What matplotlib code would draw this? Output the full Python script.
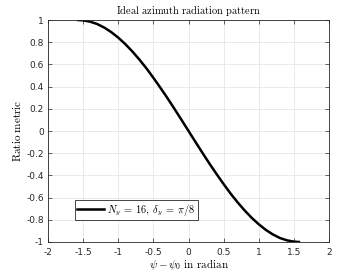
import numpy as np
import matplotlib
matplotlib.use("Agg")
import matplotlib.pyplot as plt
from matplotlib import rcParams

rcParams['mathtext.fontset'] = 'cm'
rcParams['font.family'] = 'DejaVu Sans'
rcParams['font.size'] = 7

# values
psi = [-1.571, -1.5, -1.4, -1.3, -1.2, -1.1, -1.0, -0.9, -0.8, -0.7, -0.6,
       -0.5, -0.4, -0.3, -0.2, -0.1, 0.0, 0.1, 0.2, 0.3, 0.4, 0.5, 0.6,
       0.7, 0.8, 0.9, 1.0, 1.1, 1.2, 1.3, 1.4, 1.5, 1.571]
ratio = [1.0, 0.997, 0.985, 0.964, 0.932, 0.891, 0.841, 0.783, 0.717, 0.644,
         0.565, 0.479, 0.389, 0.296, 0.199, 0.100, 0.0, -0.100, -0.199,
         -0.296, -0.389, -0.479, -0.565, -0.644, -0.717, -0.783, -0.841,
         -0.891, -0.932, -0.964, -0.985, -0.997, -1.0]
xticks = [-2, -1.5, -1, -0.5, 0, 0.5, 1, 1.5, 2]
xticklabels = ['-2', '-1.5', '-1', '-0.5', '0', '0.5', '1', '1.5', '2']
yticks = [-1, -0.8, -0.6, -0.4, -0.2, 0, 0.2, 0.4, 0.6, 0.8, 1]
yticklabels = ['-1', '-0.8', '-0.6', '-0.4', '-0.2', '0', '0.2', '0.4', '0.6', '0.8', '1']

fig = plt.figure(figsize=(3.64, 2.73), dpi=100)
ax = fig.add_axes([0.132, 0.1136, 0.772, 0.813])

ax.plot(psi, ratio, color='black', linewidth=1.8,
        label=r'$N_y\:=\:16,\:\delta_y\:=\:\pi/8$')

ax.set_xlim(-2, 2)
ax.set_ylim(-1, 1)
ax.set_xticks(xticks)
ax.set_xticklabels(xticklabels)
ax.set_yticks(yticks)
ax.set_yticklabels(yticklabels)
ax.tick_params(direction='in', top=True, right=True, length=3, width=0.5,
               labelsize=6.5, colors='#262626')
ax.tick_params(axis='x', pad=4)
ax.tick_params(axis='y', pad=3)
for s in ax.spines.values():
    s.set_linewidth(0.6)
    s.set_color('#262626')
ax.grid(True, color='#e6e6e6', linewidth=0.6)
ax.set_axisbelow(True)

ax.set_title(r'$\mathrm{Ideal\ azimuth\ radiation\ pattern}$', fontsize=7.5, pad=4)
ax.set_xlabel(r'$\psi - \psi_0\ \mathrm{in\ radian}$', fontsize=8, labelpad=0)
ax.set_ylabel(r'$\mathrm{Ratio\ metric}$', fontsize=8, labelpad=2)

leg = ax.legend(loc='lower left', bbox_to_anchor=(0.085, 0.085), fontsize=7.5,
                fancybox=False, edgecolor='#262626', framealpha=1,
                handlelength=2.6, borderpad=0.2, handletextpad=0.3,
                borderaxespad=0.3)
leg.get_frame().set_linewidth(0.6)

plt.savefig('out.png', dpi=100)
